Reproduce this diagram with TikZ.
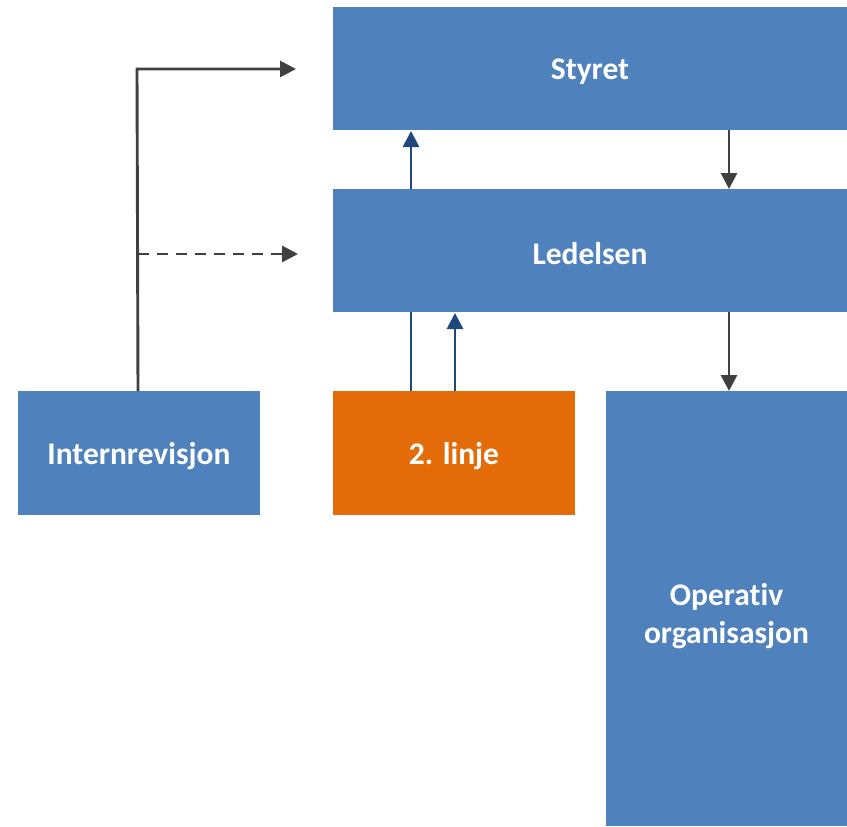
\documentclass[tikz,border=0pt]{standalone}
\usepackage{fontspec}
\setmainfont[Ligatures=NoCommon]{Carlito}
\usetikzlibrary{arrows.meta}
\definecolor{boxblue}{HTML}{4F81BD}
\definecolor{boxorange}{HTML}{E36C09}
\definecolor{arrgrey}{HTML}{404040}
\definecolor{arrblue}{HTML}{1F497D}
\tikzset{
  box/.style={fill=none, draw=none, text=white, font=\fontsize{31.5}{38}\selectfont\bfseries, align=center, inner sep=0pt},
  greyarrow/.style={draw=arrgrey, line width=2.9pt, -{Triangle[length=16pt,width=16pt]}},
  bluearrow/.style={draw=arrblue, line width=2.9pt, -{Triangle[length=16pt,width=16pt]}},
}
\begin{document}
\begin{tikzpicture}[x=1pt,y=-1pt]
\useasboundingbox (0,0) rectangle (847,827);
% coordinates
\coordinate (intT) at (138,391);
\coordinate (corner) at (137,69);
\coordinate (tipA) at (296,69);
\coordinate (dashS) at (138,254);
\coordinate (tipB) at (298,254);
\coordinate (l1S) at (411,391);
\coordinate (l1E) at (411,131);
\coordinate (l2S) at (455,391);
\coordinate (l2E) at (455,313);
\coordinate (s1S) at (729,130);
\coordinate (s1E) at (729,189);
\coordinate (s2S) at (729,312);
\coordinate (s2E) at (729,391);
% Styret
\path[fill=boxblue] (333,7) rectangle (847,130);
\node[box] (sty) at (590,72) {Styret};
% long blue arrow passes behind Ledelsen
\draw[bluearrow] (l1S) -- (l1E);
% Ledelsen
\path[fill=boxblue] (333,189) rectangle (847,312);
\node[box] (led) at (590,254) {Ledelsen};
% Internrevisjon
\path[fill=boxblue] (18,391) rectangle (260,515);
\node[box] (int) at (139,456) {Internrevisjon};
% 2. linje
\path[fill=boxorange] (333,391) rectangle (575,515);
\node[box] (lin) at (454,456) {2. linje};
% Operativ organisasjon
\path[fill=boxblue] (606,391) rectangle (847,826);
\node[box] (ope) at (726.5,616) {Operativ\\organisasjon};
% connectors
\draw[greyarrow] (intT) -- (corner) -- (tipA);
\draw[greyarrow, dash pattern=on 11pt off 8pt] (dashS) -- (tipB);
\draw[bluearrow] (l2S) -- (l2E);
\draw[greyarrow] (s1S) -- (s1E);
\draw[greyarrow] (s2S) -- (s2E);
\end{tikzpicture}
\end{document}
